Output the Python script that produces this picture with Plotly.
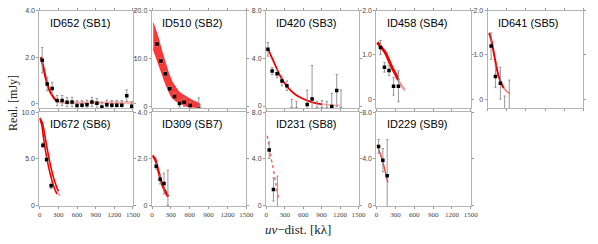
import plotly.graph_objects as go

W, H = 598, 244

titles = ["ID652 (SB1)", "ID510 (SB2)", "ID420 (SB3)", "ID458 (SB4)", "ID641 (SB5)",
          "ID672 (SB6)", "ID309 (SB7)", "ID231 (SB8)", "ID229 (SB9)"]

x_ticks = [0, 300, 600, 900, 1200, 1500]
x_tick_labels = ["0", "300", "600", "900", "1200", "1500"]

# ---- SB1 ----
sb1_u = [40, 120, 200, 280, 360, 440, 520, 600, 680, 760, 840, 920, 1000, 1080, 1160, 1240, 1320, 1400, 1480]
sb1_re = [1.86, 0.84, 0.64, 0.12, 0.12, 0.05, 0.06, -0.09, -0.08, -0.06, 0.06, 0.0, -0.16, -0.06, -0.08, -0.08, -0.08, 0.33, -0.13]
sb1_err = [0.55, 0.3, 0.25, 0.22, 0.22, 0.2, 0.2, 0.2, 0.2, 0.2, 0.2, 0.2, 0.2, 0.2, 0.2, 0.2, 0.2, 0.25, 0.2]
sb1_model_u = [16, 30, 55, 80, 100, 121, 140, 160, 180, 200, 225, 250, 275, 300]
sb1_model_re = [2.0, 1.9, 1.6, 1.3, 1.05, 0.85, 0.68, 0.55, 0.44, 0.35, 0.25, 0.16, 0.1, 0.07]
sb1_tail_u = [300, 400, 600, 900, 1200, 1500]
sb1_tail_re = [0.07, 0.03, 0.02, 0.02, 0.02, 0.02]

# ---- SB2 ----
sb2_u = [78, 140, 213, 281, 359, 437, 510, 608, 744]
sb2_re = [13.1, 9.55, 6.9, 3.8, 2.2, 0.7, 1.0, 0.3, -0.5]
sb2_err = [0.5, 0.5, 0.5, 0.5, 0.6, 0.7, 0.9, 0.8, 2.4]
sb2_band_u = [20, 60, 109, 160, 213, 265, 317, 370, 421, 500, 577, 655, 733, 770]
sb2_band_hi = [17.5, 16.0, 14.0, 11.4, 9.0, 7.0, 5.3, 4.1, 3.2, 2.5, 1.9, 1.3, 0.9, 0.6]
sb2_band_lo = [12.0, 10.5, 8.6, 6.6, 4.9, 3.2, 1.9, 1.3, 0.9, 0.4, 0.0, -0.1, -0.1, -0.1]

# ---- SB3 ----
sb3_u = [27, 96, 176, 255, 335, 415, 490, 665, 745, 825, 905, 985, 1065, 1145, 1215]
sb3_re = [4.76, 2.94, 2.72, 2.1, 1.71, -0.3, -0.3, 0.13, 0.6, -0.3, -0.3, -0.3, -0.03, 1.3, -0.3]
sb3_err = [0.57, 0.3, 0.35, 0.4, 0.4, 0.85, 0.7, 1.2, 2.8, 0.7, 0.75, 0.7, 1.1, 1.35, 1.66]
sb3_model_u = [27, 80, 160, 240, 319, 400, 479, 580, 692, 800, 905]
sb3_model_re = [4.82, 4.2, 3.27, 2.4, 1.77, 1.3, 0.95, 0.65, 0.41, 0.25, 0.14]
sb3_tail_u = [905, 1000, 1100, 1200]
sb3_tail_re = [0.14, 0.09, 0.06, 0.05]

# ---- SB4 ----
sb4_u = [62, 125, 198, 270, 348]
sb4_re = [1.17, 0.72, 0.65, 0.29, 0.29]
sb4_err = [0.16, 0.11, 0.12, 0.2, 0.35]
sb4_model_u = [10, 60, 140, 200, 244, 300, 348]
sb4_model_re = [1.28, 1.2, 1.05, 0.86, 0.72, 0.57, 0.43]
sb4_tail_u = [348, 400, 452]
sb4_tail_re = [0.43, 0.3, 0.2]

# ---- SB5 ----
sb5_u = [51, 119, 197, 264, 337]
sb5_re = [1.2, 0.51, 0.36, -0.3, -0.3]
sb5_err = [0.3, 0.25, 0.36, 0.37, 0.73]
sb5_model_u = [20, 60, 93, 130, 171, 210, 248]
sb5_model_re = [1.5, 1.3, 1.05, 0.77, 0.51, 0.36, 0.25]
sb5_tail_u = [248, 300, 351]
sb5_tail_re = [0.25, 0.17, 0.12]

# ---- SB6 ----
sb6_u = [52, 110, 184]
sb6_re = [6.45, 4.93, 2.1]
sb6_err = [0.25, 0.25, 0.3]
sb6_model_a_u = [0, 40, 80, 120, 170, 220, 270, 300]
sb6_model_a_re = [9.4, 8.9, 7.6, 6.1, 4.4, 3.0, 2.0, 1.5]
sb6_model_b_u = [0, 30, 60, 100, 150, 200, 250, 280]
sb6_model_b_re = [9.3, 8.7, 7.3, 5.6, 3.9, 2.6, 1.6, 1.2]
sb6_tail_u = [300, 330]
sb6_tail_re = [1.3, 0.9]

# ---- SB7 ----
sb7_u = [67, 129, 191, 253]
sb7_re = [1.67, 1.11, 0.93, -0.1]
sb7_err = [0.12, 0.2, 0.45, 1.6]
sb7_model_a_u = [10, 50, 100, 150, 200, 264]
sb7_model_a_re = [2.15, 2.02, 1.55, 1.05, 0.7, 0.38]
sb7_model_b_u = [10, 50, 100, 150, 200, 250]
sb7_model_b_re = [2.1, 1.92, 1.42, 0.92, 0.6, 0.35]

# ---- SB8 ----
sb8_u = [48, 117, 181]
sb8_re = [4.74, 1.35, -0.3]
sb8_err = [0.7, 1.0, 2.8]
sb8_model_u = [16, 60, 110, 160, 203]
sb8_model_re = [5.98, 4.6, 3.2, 1.7, 0.47]

# ---- SB9 ----
sb9_u = [32, 100, 169]
sb9_re = [5.06, 3.87, 2.54]
sb9_err = [0.6, 1.0, 3.1]
sb9_model_u = [10, 60, 110, 179]
sb9_model_re = [5.17, 4.4, 3.5, 1.93]

y_ranges = [[-0.2, 4.0], [-0.2, 20.0], [-0.16, 8.0], [-0.2, 2.0], [-0.2, 2.0],
            [-0.08, 10.0], [-0.04, 4.0], [-0.08, 8.0], [-0.08, 8.0]]
y_ticks = [[0, 2, 4], [0, 10, 20], [0, 4, 8], [0, 1, 2], [0, 1, 2],
           [0, 5, 10], [0, 2, 4], [0, 4, 8], [0, 4, 8]]
y_tick_labels = [["0", "2.0", "4.0"], ["0", "10.0", "20.0"], ["0", "4.0", "8.0"],
                 ["0", "1.0", "2.0"], ["0", "1.0", "2.0"], ["0", "5.0", "10.0"],
                 ["0", "2.0", "4.0"], ["0", "4.0", "8.0"], ["0", "4.0", "8.0"]]

points = [(sb1_u, sb1_re, sb1_err), (sb2_u, sb2_re, sb2_err), (sb3_u, sb3_re, sb3_err),
          (sb4_u, sb4_re, sb4_err), (sb5_u, sb5_re, sb5_err), (sb6_u, sb6_re, sb6_err),
          (sb7_u, sb7_re, sb7_err), (sb8_u, sb8_re, sb8_err), (sb9_u, sb9_re, sb9_err)]

RED = "rgb(240,0,0)"
PALE = "rgba(240,40,40,0.35)"

# model lines: (panel index, u, re, color, width, dash)
models = [
    (0, sb1_model_u, sb1_model_re, RED, 2.2, "solid"),
    (0, sb1_tail_u, sb1_tail_re, PALE, 3, "solid"),
    (2, sb3_model_u, sb3_model_re, RED, 1.8, "solid"),
    (2, sb3_tail_u, sb3_tail_re, PALE, 1.8, "solid"),
    (3, sb4_model_u, sb4_model_re, RED, 3, "solid"),
    (3, sb4_tail_u, sb4_tail_re, "rgba(240,40,40,0.5)", 2, "solid"),
    (4, sb5_model_u, sb5_model_re, RED, 2, "solid"),
    (4, sb5_tail_u, sb5_tail_re, "rgba(240,40,40,0.6)", 1.5, "solid"),
    (5, sb6_model_a_u, sb6_model_a_re, RED, 1.6, "solid"),
    (5, sb6_model_b_u, sb6_model_b_re, RED, 1.6, "solid"),
    (5, sb6_tail_u, sb6_tail_re, "rgba(240,40,40,0.45)", 2, "dot"),
    (6, sb7_model_a_u, sb7_model_a_re, RED, 1.6, "solid"),
    (6, sb7_model_b_u, sb7_model_b_re, RED, 1.6, "solid"),
    (7, sb8_model_u, sb8_model_re, "rgba(240,30,30,0.75)", 1.3, "dot"),
    (8, sb9_model_u, sb9_model_re, "rgba(240,30,30,0.85)", 1.4, "solid"),
]

cols_px = [(39, 134), (153, 249), (269, 363), (381, 477), (494, 591)]
rows_px = [(7, 107), (111.5, 208)]

fig = go.Figure()
annotations = []
layout_axes = {}

for i in range(9):
    r = 0 if i < 5 else 1
    c = i if i < 5 else i - 5
    x0, x1 = cols_px[c]
    y0, y1 = rows_px[r]
    n = i + 1
    xa = "x" if n == 1 else f"x{n}"
    ya = "y" if n == 1 else f"y{n}"
    xkey = "xaxis" if n == 1 else f"xaxis{n}"
    ykey = "yaxis" if n == 1 else f"yaxis{n}"
    layout_axes[xkey] = dict(
        domain=[x0 / W, x1 / W], anchor=ya, range=[-5, 1500],
        showgrid=False, zeroline=False, showline=True, linecolor="#b4b4b4", linewidth=1,
        mirror="ticks", ticks="outside", ticklen=2, tickcolor="#999",
        tickvals=x_ticks, ticktext=x_tick_labels, showticklabels=(r == 1),
        tickfont=dict(family="Liberation Serif", size=7, color="#444"),
    )
    layout_axes[ykey] = dict(
        domain=[1 - y1 / H, 1 - y0 / H], anchor=xa, range=y_ranges[i],
        showgrid=False, zeroline=False, showline=True, linecolor="#b4b4b4", linewidth=1,
        mirror="ticks", ticks="outside", ticklen=2, tickcolor="#999",
        tickvals=y_ticks[i], ticktext=y_tick_labels[i],
        tickfont=dict(family="Liberation Sans", size=7, color="#444"),
    )
    annotations.append(dict(
        text=titles[i], xref="paper", yref="paper",
        x=(x0 + 8.5) / W, y=1 - (y0 + 12.5) / H, xanchor="left", yanchor="middle",
        showarrow=False, font=dict(family="Liberation Sans", size=11, color="black"),
    ))
    if i == 1:
        fig.add_trace(go.Scatter(x=sb2_band_u, y=sb2_band_lo, mode="lines",
                                 line=dict(color="rgba(255,0,0,0.6)", width=1),
                                 xaxis=xa, yaxis=ya, showlegend=False, hoverinfo="skip"))
        fig.add_trace(go.Scatter(x=sb2_band_u, y=sb2_band_hi, mode="lines",
                                 line=dict(color="rgba(255,0,0,0.6)", width=1),
                                 fill="tonexty", fillcolor="rgba(255,20,20,0.85)",
                                 xaxis=xa, yaxis=ya, showlegend=False, hoverinfo="skip"))
    for (pi, mu, mre, col, wd, dash) in models:
        if pi == i:
            fig.add_trace(go.Scatter(x=mu, y=mre, mode="lines",
                                     line=dict(color=col, width=wd, dash=dash, shape="spline"),
                                     xaxis=xa, yaxis=ya, showlegend=False, hoverinfo="skip"))
    u, re, err = points[i]
    fig.add_trace(go.Scatter(
        x=u, y=re, mode="markers",
        marker=dict(color="black", size=3.5, symbol="square"),
        error_y=dict(type="data", array=err, color="#8c8c8c", thickness=0.9, width=1.2),
        xaxis=xa, yaxis=ya, showlegend=False,
    ))

annotations.append(dict(
    text="Real. [mJy]", xref="paper", yref="paper", x=12 / W, y=1 - 102 / H,
    textangle=-90, showarrow=False, xanchor="center", yanchor="middle",
    font=dict(family="Liberation Serif", size=12, color="#222"),
))
annotations.append(dict(
    text="<i>uv</i>−dist. [kλ]", xref="paper", yref="paper", x=302 / W, y=1 - 232 / H,
    showarrow=False, xanchor="center", yanchor="middle",
    font=dict(family="Liberation Serif", size=13, color="#222"),
))

fig.update_layout(
    width=W, height=H, margin=dict(l=0, r=0, t=0, b=0),
    paper_bgcolor="white", plot_bgcolor="white",
    annotations=annotations, **layout_axes,
)

fig.write_html("out.html", config={"displayModeBar": False},
               post_script="document.body.style.margin='0';")
